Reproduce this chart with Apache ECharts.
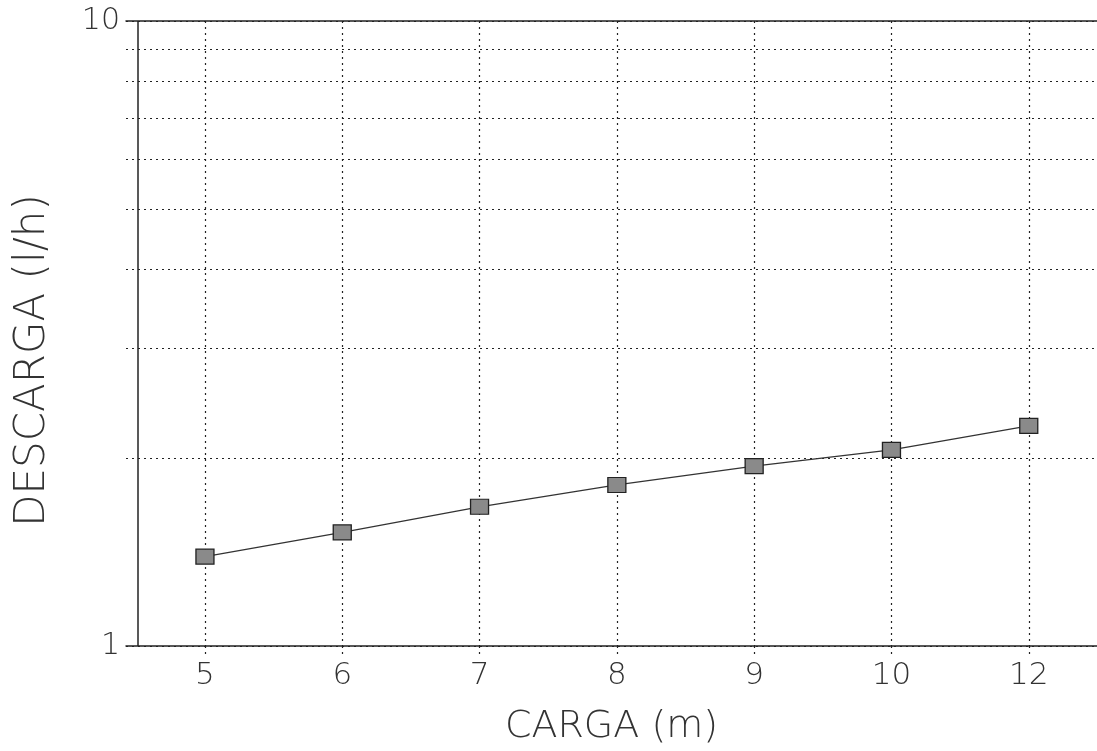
<!DOCTYPE html>
<html>
<head>
<meta charset="utf-8">
<script src="https://cdn.jsdelivr.net/npm/echarts@6/dist/echarts.min.js"></script>
<style>
html,body{margin:0;padding:0;background:#fff;}
#chart{width:1097px;height:751px;}
</style>
</head>
<body>
<div id="chart"></div>
<script>
// Data
var categories = ['5', '6', '7', '8', '9', '10', '12'];
var descarga = [1.39, 1.52, 1.67, 1.81, 1.94, 2.06, 2.25];
var yGridValues = [1, 2, 3, 4, 5, 6, 7, 8, 9, 10];
var yLabelValues = [1, 10];
var xTitle = 'CARGA (m)';
var yTitle = 'DESCARGA (l/h)';

var catIndex = categories.map(function (c, i) { return i; });
var seriesData = categories.map(function (c, i) { return [i, descarga[i]]; });

// x extent (in category-index units); the frame line sits at xFrame
var xMin = -0.575, xMax = 6.497, xFrame = -0.488;

var textColor = '#333';
var fontFamily = 'DejaVu Sans';
var dotted = { color: '#222', width: 1.2, type: [2, 4] };

var chart = echarts.init(document.getElementById('chart'));
chart.setOption({
  backgroundColor: '#fff',
  animation: false,
  grid: { left: 126, right: 0, top: 21, bottom: 105, containLabel: false },
  xAxis: [{
    type: 'value',
    min: xMin,
    max: xMax,
    position: 'bottom',
    name: xTitle,
    nameLocation: 'middle',
    nameGap: 62,
    nameTextStyle: { fontFamily: fontFamily, fontSize: 38, color: textColor, fontWeight: 300 },
    axisLine: { show: true, onZero: false, lineStyle: { color: '#222', width: 1.5 } },
    axisTick: { show: true, customValues: catIndex, length: 8, inside: false, lineStyle: dotted },
    axisLabel: {
      customValues: catIndex,
      margin: 14,
      fontFamily: fontFamily, fontSize: 31, color: textColor, fontWeight: 300,
      formatter: function (v) { return categories[Math.round(v)] || ''; }
    },
    splitLine: { show: true, lineStyle: dotted }
  }, {
    type: 'value',
    min: xMin,
    max: xMax,
    position: 'top',
    z: 10,
    axisLine: { show: true, onZero: false, lineStyle: { color: '#222', width: 1.5 } },
    axisTick: { show: false, customValues: [xFrame] },
    axisLabel: { show: false },
    splitLine: { show: true, lineStyle: { color: '#222', width: 1.5, type: 'solid' } }
  }],
  yAxis: {
    type: 'log',
    logBase: 10,
    min: 1,
    max: 10,
    position: 'left',
    name: yTitle,
    nameLocation: 'middle',
    nameRotate: 90,
    nameGap: 72,
    nameTextStyle: { fontFamily: fontFamily, fontSize: 42, color: textColor, fontWeight: 300, padding: [0, 54, 0, 0] },
    axisLine: { show: false, onZero: false },
    axisTick: { show: false, customValues: yGridValues },
    axisLabel: {
      customValues: yLabelValues,
      margin: 6,
      fontFamily: fontFamily, fontSize: 30, color: textColor, fontWeight: 300,
      formatter: function (v) { return String(Math.round(v)); }
    },
    splitLine: { show: true, lineStyle: dotted }
  },
  series: [{
    type: 'line',
    xAxisIndex: 0,
    data: seriesData,
    symbol: 'rect',
    symbolSize: [18, 15],
    lineStyle: { color: '#333', width: 1.3 },
    itemStyle: { color: '#8a8a8a', borderColor: '#222', borderWidth: 1.2 },
    z: 5
  }]
});
</script>
</body>
</html>
